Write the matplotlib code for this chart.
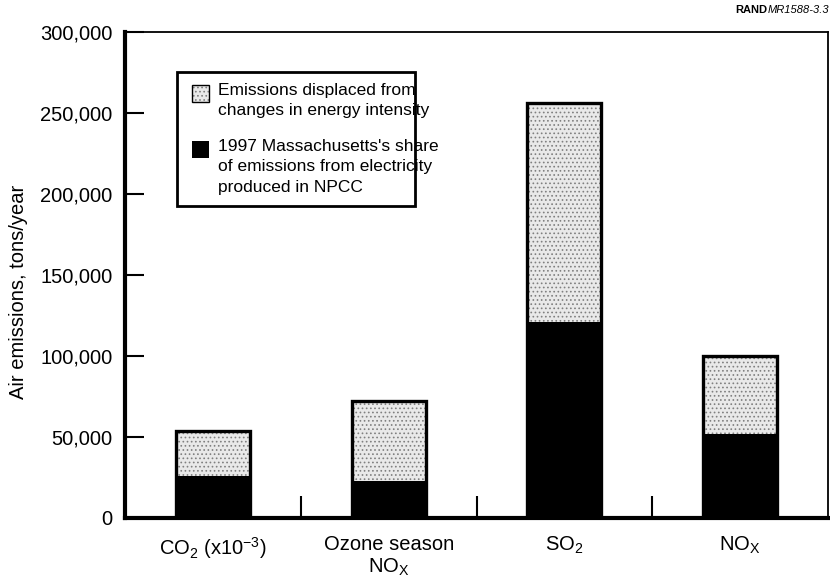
import numpy as np
import matplotlib
matplotlib.use('Agg')
import matplotlib.pyplot as plt
from matplotlib.patches import Rectangle

# values (tons/year)
categories = [r'CO$_2$ (x10$^{-3}$)', 'Ozone season\nNO$_{X}$', r'SO$_2$', 'NO$_{X}$']
ma_share = [26000, 23000, 121000, 52000]       # black part
displaced = [28000, 49000, 135000, 48000]       # stippled part on top
yticks = [0, 50000, 100000, 150000, 200000, 250000, 300000]

legend_labels = ['Emissions displaced from\nchanges in energy intensity',
                 "1997 Massachusetts's share\nof emissions from electricity\nproduced in NPCC"]

plt.rcParams['font.family'] = ['Liberation Sans', 'DejaVu Sans']
plt.rcParams['mathtext.default'] = 'regular'
plt.rcParams['hatch.linewidth'] = 0.7

fig = plt.figure(figsize=(8.3, 5.79), dpi=100)
ax = fig.add_axes([0.1506, 0.1054, 0.8470, 0.8393])

x = np.arange(len(categories))
totals = np.array(ma_share) + np.array(displaced)
w = 0.42

# black base, stippled top, then one outline round the whole bar
ax.bar(x, ma_share, width=w, color='black', linewidth=0, zorder=2)
ax.bar(x, displaced, width=w, bottom=ma_share, facecolor='#e9e9e9',
       edgecolor='#808080', hatch='....', linewidth=0, zorder=2)
ax.bar(x, totals, width=w, fill=False, edgecolor='black', linewidth=2.4, zorder=3)

ax.set_xlim(-0.5, 3.5)
ax.set_ylim(0, 300000)
ax.set_yticks(yticks)
ax.set_yticklabels(['{:,}'.format(v) for v in yticks], fontsize=14.5)
ax.set_xticks(x)
ax.set_xticklabels(categories, fontsize=14.5, linespacing=1.2)
ax.set_xticks([0.5, 1.5, 2.5], minor=True)

ax.tick_params(axis='y', direction='in', length=14, width=1.5, pad=9)
ax.tick_params(axis='x', which='major', length=0, pad=12)
ax.tick_params(axis='x', which='minor', direction='in', length=16, width=1.5)

for s in ['left', 'bottom']:
    ax.spines[s].set_linewidth(3)
for s in ['top', 'right']:
    ax.spines[s].set_linewidth(1.3)

ax.set_ylabel('Air emissions, tons/year', fontsize=14.5)
ax.yaxis.set_label_coords(-0.138, 0.465)

# legend box drawn by hand so the swatches sit on the first line
bx0, bx1 = (177 - 125) / 703.0, (415 - 125) / 703.0
by1, by0 = (518 - 72) / 486.0, (518 - 206) / 486.0
ax.add_patch(Rectangle((bx0, by0), bx1 - bx0, by1 - by0, transform=ax.transAxes,
                       facecolor='white', edgecolor='black', linewidth=2, zorder=5))
sq_w, sq_h = 17 / 703.0, 17 / 486.0
sx = (192 - 125) / 703.0
tx = (218 - 125) / 703.0
for i, (lab, yy) in enumerate(zip(legend_labels, [93, 149])):
    yc = (518 - yy) / 486.0
    if i == 0:
        ax.add_patch(Rectangle((sx, yc - sq_h / 2), sq_w, sq_h, transform=ax.transAxes,
                               facecolor='#e9e9e9', edgecolor='#808080', hatch='....',
                               linewidth=0, zorder=6))
        ax.add_patch(Rectangle((sx, yc - sq_h / 2), sq_w, sq_h, transform=ax.transAxes,
                               fill=False, edgecolor='black', linewidth=1, zorder=7))
    else:
        ax.add_patch(Rectangle((sx, yc - sq_h / 2), sq_w, sq_h, transform=ax.transAxes,
                               facecolor='black', linewidth=0, zorder=6))
    ax.text(tx, yc + 10 / 486.0, lab, transform=ax.transAxes, fontsize=12.5,
            va='top', ha='left', linespacing=1.45, zorder=8)

# figure id in the corner: italic part first, bold RAND just left of it
t = fig.text(0.999, 0.992, 'MR1588-3.3', fontsize=8, style='italic', ha='right', va='top')
fig.canvas.draw()
bb = t.get_window_extent()
fig.text(bb.x0 / fig.bbox.width, 0.992, 'RAND', fontsize=8, fontweight='bold',
         ha='right', va='top')

fig.savefig('out.png', dpi=100)
plt.close(fig)
